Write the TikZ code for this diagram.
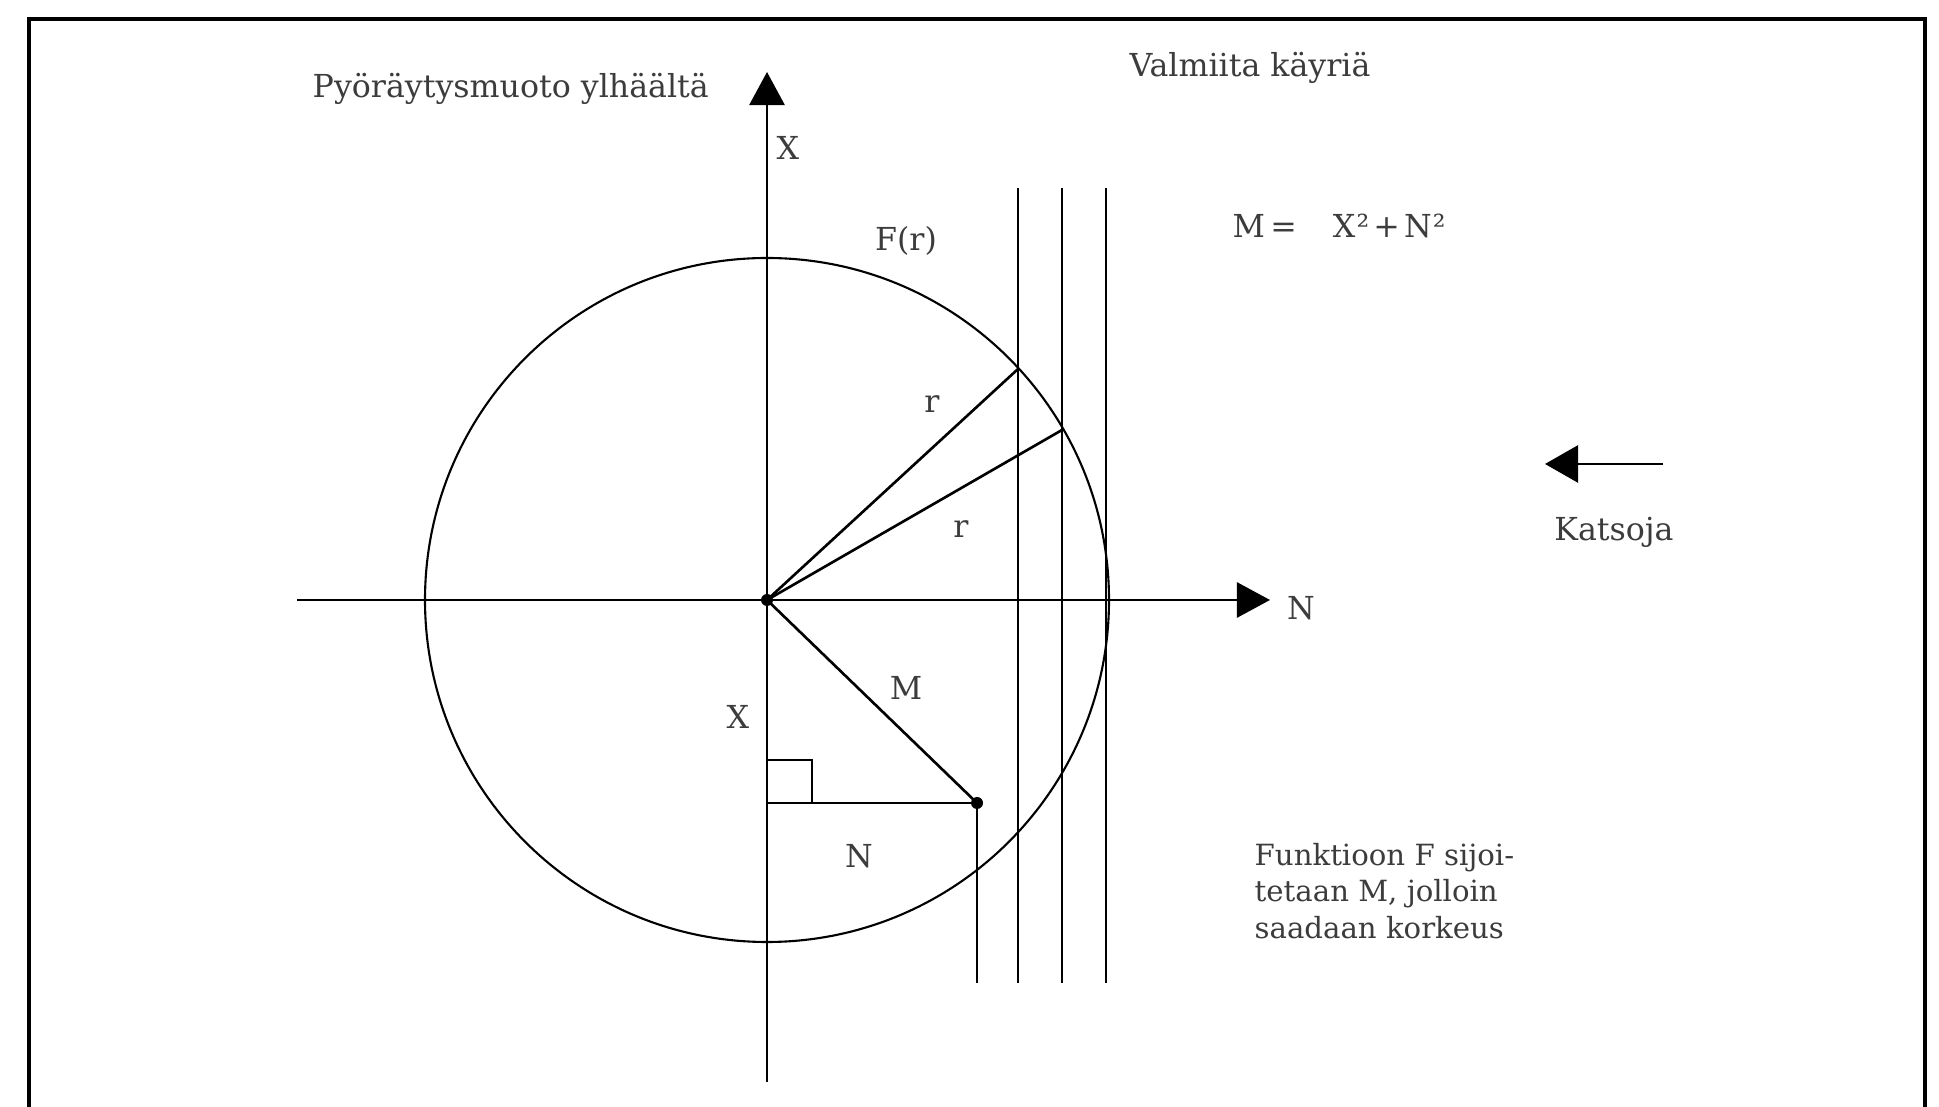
\documentclass[tikz,border=0pt]{standalone}
\usepackage{fontspec}
\setmainfont{DejaVu Serif}
\usetikzlibrary{arrows.meta}
\definecolor{txt}{HTML}{3c3c3c}
\tikzset{
  lbl/.style={inner sep=0pt, text=txt, font=\fontsize{9}{11}\selectfont},
  ax/.style={line width=0.75pt, draw=black},
  thin/.style={line width=0.6pt, draw=black},
  bigtip/.style={-{Triangle[length=0.33cm,width=0.35cm]}},
}
\begin{document}
\begin{tikzpicture}[x=0.01cm,y=-0.01cm]
\useasboundingbox (0,0) rectangle (1939,1107);
% frame
\draw[line width=1.4pt] (29,1120) -- (29,19) -- (1925,19) -- (1925,1120);
% key points
\coordinate (O) at (767,600);
\coordinate (Xtop) at (767,72);
\coordinate (Xbot) at (767,1082);
\coordinate (Nleft) at (297,600);
\coordinate (Nright) at (1270,600);
\coordinate (A) at (1018,369);
\coordinate (B) at (1062,430);
\coordinate (P) at (977,803);
\coordinate (Q) at (767,803);
% circle
\draw[thin] (O) circle (342);
% axes
\draw[ax,bigtip] (Xbot) -- (Xtop);
\draw[ax,bigtip] (Nleft) -- (Nright);
% vertical curves
\coordinate (V1t) at (1018,188); \coordinate (V1b) at (1018,983);
\coordinate (V2t) at (1062,188); \coordinate (V2b) at (1062,983);
\coordinate (V3t) at (1106,188); \coordinate (V3b) at (1106,983);
\coordinate (V4b) at (977,983);
\draw[thin] (V1t) -- (V1b);
\draw[thin] (V2t) -- (V2b);
\draw[thin] (V3t) -- (V3b);
\draw[thin] (P) -- (V4b);
% radii
\draw[ax] (O) -- (A);
\draw[ax] (O) -- (B);
\draw[ax] (O) -- (P);
\draw[ax] (Q) -- (P);
% right angle
\draw[thin] (767,760) -- (812,760) -- (812,803);
% dots
\fill (O) circle (6);
\fill (P) circle (6);
% viewer arrow
\coordinate (K1) at (1663,464);
\coordinate (K2) at (1545,464);
\draw[ax,-{Triangle[length=0.33cm,width=0.37cm]}] (K1) -- (K2);
% labels
\node[lbl,anchor=west] (t1) at (312,89) {Pyöräytysmuoto ylhäältä};
\node[lbl] (t2) at (1250,68) {Valmiita käyriä};
\node[lbl] (lx) at (788,148) {X};
\node[lbl] (lf) at (906,241) {F(r)};
\node[lbl,anchor=west] (lm) at (1232,226) {M\,=\hspace{0.36cm}X\kern0.3pt²\kern1.2pt+\kern1.2ptN\kern0.3pt²};
\node[lbl] (r1) at (932,404) {r};
\node[lbl] (r2) at (961,529) {r};
\node[lbl] (lk) at (1614,532) {Katsoja};
\node[lbl] (ln) at (1301,608) {N};
\node[lbl] (lM) at (906,688) {M};
\node[lbl] (lX2) at (738,717) {X};
\node[lbl] (lN2) at (859,856) {N};
\node[lbl,anchor=west,align=left,font=\fontsize{8.3}{10.3}\selectfont] (lt) at (1254,891) {Funktioon F sijoi-\\tetaan M, jolloin\\saadaan korkeus};
\end{tikzpicture}
\end{document}
